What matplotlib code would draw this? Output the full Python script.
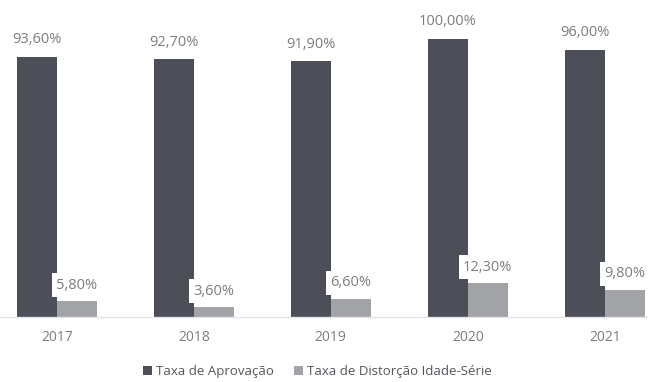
import numpy as np
import matplotlib.pyplot as plt

plt.rcParams['font.family'] = ['Open Sans', 'DejaVu Sans']

anos = ['2017', '2018', '2019', '2020', '2021']
aprovacao = [93.6, 92.7, 91.9, 100.0, 96.0]
distorcao = [5.8, 3.6, 6.6, 12.3, 9.8]

COR_ESCURA = '#4c4f57'
COR_CLARA = '#a2a3a7'
COR_TEXTO = '#7d7d80'


def fmt(v):
    return f'{v:.2f}%'.replace('.', ',')


fig = plt.figure(figsize=(6.48, 3.82), dpi=100)
# the plot area runs a little past both figure edges
ax = fig.add_axes([-0.018, 0.170, 1.057, 0.728])

x = np.arange(len(anos))
w = 0.29
b1 = ax.bar(x - w / 2, aprovacao, w, color=COR_ESCURA, label='Taxa de Aprovação')
b2 = ax.bar(x + w / 2, distorcao, w, color=COR_CLARA, label='Taxa de Distorção Idade-Série')

for rect, v in zip(b1, aprovacao):
    ax.annotate(fmt(v), (rect.get_x() + rect.get_width() / 2, v),
                xytext=(0, 7), textcoords='offset points',
                ha='center', va='bottom', fontsize=10.5, color=COR_TEXTO)

for rect, v in zip(b2, distorcao):
    ax.annotate(fmt(v), (rect.get_x() + rect.get_width() / 2, v),
                xytext=(0, 6), textcoords='offset points',
                ha='center', va='bottom', fontsize=10.5, color=COR_TEXTO,
                bbox=dict(boxstyle='square,pad=0.3', fc='white', ec='none'))

ax.set_xlim(-0.5, len(anos) - 0.5)
ax.set_ylim(0, 100)
ax.set_xticks(x)
ax.set_xticklabels(anos, fontsize=10, color=COR_TEXTO)
ax.tick_params(axis='x', length=0, pad=9)
ax.set_yticks([])
for s in ['top', 'right', 'left']:
    ax.spines[s].set_visible(False)
ax.spines['bottom'].set_color('#e2e4ea')
ax.spines['bottom'].set_linewidth(1.0)

fig.legend(handles=[b1, b2], loc='center', bbox_to_anchor=(0.49, 0.027),
           ncol=2, frameon=False, fontsize=9.5, labelcolor='#55565c',
           handlelength=0.7, handleheight=0.7, handletextpad=0.3,
           columnspacing=1.5)

fig.savefig('out.png', dpi=100)
